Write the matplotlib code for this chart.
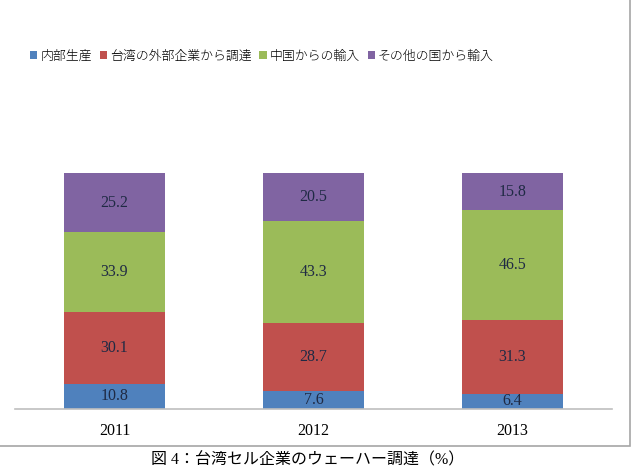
import matplotlib.pyplot as plt
from matplotlib.patches import Rectangle

years = ["2011", "2012", "2013"]
series_names = ["内部生産", "台湾の外部企業から調達", "中国からの輸入", "その他の国から輸入"]
internal = [10.8, 7.6, 6.4]
taiwan_outside = [30.1, 28.7, 31.3]
china = [33.9, 43.3, 46.5]
other = [25.2, 20.5, 15.8]
colors = ["#4F81BD", "#C0504D", "#9BBB59", "#8064A2"]

serif = ["Liberation Serif", "Noto Sans CJK JP"]
cjk = ["Noto Sans CJK JP", "DejaVu Sans"]

fig = plt.figure(figsize=(6.32, 4.72), dpi=100)
ax = fig.add_axes([15 / 632, 1 - 409 / 472, 597 / 632, 236 / 472])

x = range(len(years))
bottoms = [0, 0, 0]
for name, vals, col in zip(series_names, [internal, taiwan_outside, china, other], colors):
    ax.bar(x, vals, width=0.51, bottom=bottoms, color=col, label=name)
    for xi, v, b in zip(x, vals, bottoms):
        ax.text(xi, b + v / 2, f"{v}", ha="center", va="center",
                fontsize=11.5, color="#1F2A44", family=serif)
    bottoms = [b + v for b, v in zip(bottoms, vals)]

ax.set_xlim(-0.5, 2.5)
ax.set_ylim(0, 100)
ax.set_yticks([])
ax.set_xticks(list(x))
ax.set_xticklabels(years, family=serif, fontsize=11.5)
ax.tick_params(axis="x", length=0, pad=10)
for s in ["top", "left", "right"]:
    ax.spines[s].set_visible(False)
ax.spines["bottom"].set_color("#BFBFBF")
ax.spines["bottom"].set_linewidth(1.2)

fig.legend(loc="center", bbox_to_anchor=(262 / 632, 1 - 56 / 472), ncol=4, frameon=False,
           prop={"family": cjk, "size": 9.3, "weight": "light"}, handlelength=0.55, handleheight=0.55,
           handletextpad=0.25, columnspacing=0.6)

fig.patches.append(Rectangle((-0.01, 1 - 446 / 472), 630 / 632 + 0.01, 446 / 472 + 0.01,
                             transform=fig.transFigure, fill=False, edgecolor="#A6A6A6",
                             linewidth=1.2))

fig.text(308 / 632, 1 - 460 / 472, "図 4：台湾セル企業のウェーハー調達（%）", ha="center", va="center",
         fontsize=11.5, family=serif)

fig.savefig("out.png", dpi=100)
